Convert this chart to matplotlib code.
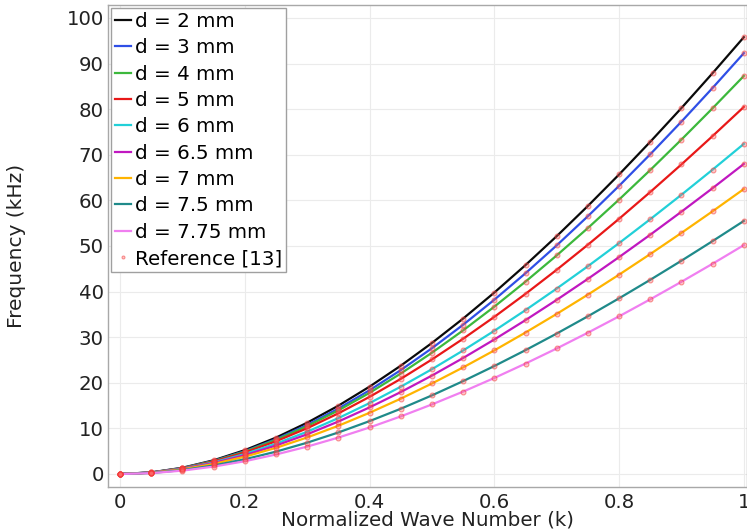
import numpy as np
import matplotlib
matplotlib.use("Agg")
import matplotlib.pyplot as plt

# Normalized wave number (k)
k = [0.0, 0.05, 0.1, 0.15, 0.2, 0.25, 0.3, 0.35, 0.4, 0.45, 0.5,
     0.55, 0.6, 0.65, 0.7, 0.75, 0.8, 0.85, 0.9, 0.95, 1.0]

# Frequency (kHz) for each thickness
f_2mm = [0.0, 0.35, 1.37, 3.01, 5.23, 7.98, 11.25, 14.98, 19.16, 23.75, 28.74,
         34.09, 39.79, 45.82, 52.16, 58.79, 65.69, 72.86, 80.27, 87.93, 95.80]
f_3mm = [0.0, 0.33, 1.31, 2.88, 5.00, 7.64, 10.77, 14.35, 18.37, 22.78, 27.58,
         32.73, 38.22, 44.03, 50.14, 56.54, 63.20, 70.13, 77.29, 84.69, 92.30]
f_4mm = [0.0, 0.33, 1.29, 2.83, 4.90, 7.47, 10.49, 13.95, 17.80, 22.03, 26.60,
         31.50, 36.70, 42.19, 47.94, 53.95, 60.19, 66.67, 73.35, 80.23, 87.30]
f_5mm = [0.0, 0.32, 1.25, 2.74, 4.72, 7.17, 10.04, 13.30, 16.92, 20.86, 25.12,
         29.66, 34.46, 39.51, 44.79, 50.28, 55.97, 61.85, 67.90, 74.13, 80.50]
f_6mm = [0.0, 0.30, 1.17, 2.55, 4.39, 6.64, 9.28, 12.26, 15.55, 19.14, 22.99,
         27.09, 31.41, 35.94, 40.67, 45.57, 50.64, 55.88, 61.25, 66.76, 72.40]
f_6_5mm = [0.0, 0.29, 1.10, 2.40, 4.12, 6.24, 8.71, 11.51, 14.61, 17.97, 21.59,
           25.44, 29.50, 33.75, 38.19, 42.80, 47.57, 52.48, 57.53, 62.70, 68.00]
f_7mm = [0.0, 0.26, 1.01, 2.20, 3.79, 5.74, 8.01, 10.58, 13.43, 16.52, 19.85,
         23.38, 27.11, 31.03, 35.11, 39.34, 43.72, 48.24, 52.88, 57.63, 62.50]
f_7_5mm = [0.0, 0.22, 0.86, 1.87, 3.23, 4.90, 6.87, 9.11, 11.60, 14.31, 17.24,
           20.37, 23.68, 27.16, 30.80, 34.59, 38.53, 42.59, 46.78, 51.09, 55.50]
f_7_75mm = [0.0, 0.19, 0.74, 1.62, 2.80, 4.28, 6.01, 7.99, 10.20, 12.63, 15.26,
            18.07, 21.06, 24.22, 27.53, 30.99, 34.58, 38.31, 42.16, 46.12, 50.20]

labels = ["d = 2 mm", "d = 3 mm", "d = 4 mm", "d = 5 mm", "d = 6 mm",
          "d = 6.5 mm", "d = 7 mm", "d = 7.5 mm", "d = 7.75 mm"]
series = [f_2mm, f_3mm, f_4mm, f_5mm, f_6mm, f_6_5mm, f_7mm, f_7_5mm, f_7_75mm]
colors = ["#0a0a0a", "#2f4fe6", "#3cb83c", "#e81818", "#22d0d8",
          "#c018c0", "#ffb400", "#1f8a8a", "#f07ff0"]

fig = plt.figure(figsize=(7.47, 5.32), dpi=100)
ax = fig.add_axes([0.1446, 0.0846, 0.8554, 0.906])

for y, c, lab in zip(series, colors, labels):
    ax.plot(k, y, color=c, lw=1.6, label=lab, zorder=2)

# reference data as small translucent red circles
for i, y in enumerate(series):
    ax.plot(k, y, ls="none", marker="o", ms=3.5, mfc=(1, 0.4, 0.4, 0.35),
            mec=(0.95, 0.2, 0.2, 0.5), mew=0.8, zorder=3,
            label="Reference [13]" if i == 0 else None)

ax.set_xlim(-0.0193, 1.005)
ax.set_ylim(-2.85, 102.85)
ax.set_xticks([0, 0.2, 0.4, 0.6, 0.8, 1.0])
ax.set_xticklabels(["0", "0.2", "0.4", "0.6", "0.8", "1"])
ax.set_yticks(np.arange(0, 101, 10))
ax.tick_params(length=0, labelsize=14.2, colors="#222222")
ax.tick_params(axis="y", pad=3)
ax.tick_params(axis="x", pad=4)
ax.grid(True, color="#ebebeb", lw=0.8)
ax.set_axisbelow(True)
for s in ax.spines.values():
    s.set_color("#a8a8a8")
    s.set_linewidth(1.0)

ax.set_xlabel("Normalized Wave Number (k)", fontsize=14.3, labelpad=-1, color="#222222")
ax.set_ylabel("Frequency (kHz)", fontsize=14.5, labelpad=29, color="#222222")

leg = ax.legend(loc="upper left", fontsize=14.3, handlelength=0.8,
                handletextpad=0.2, labelspacing=0.37, borderaxespad=0.15,
                borderpad=0.2, fancybox=False, framealpha=1,
                edgecolor="#a0a0a0", markerscale=0.6)
leg.get_frame().set_linewidth(1.0)

fig.savefig("out.png", dpi=100)
